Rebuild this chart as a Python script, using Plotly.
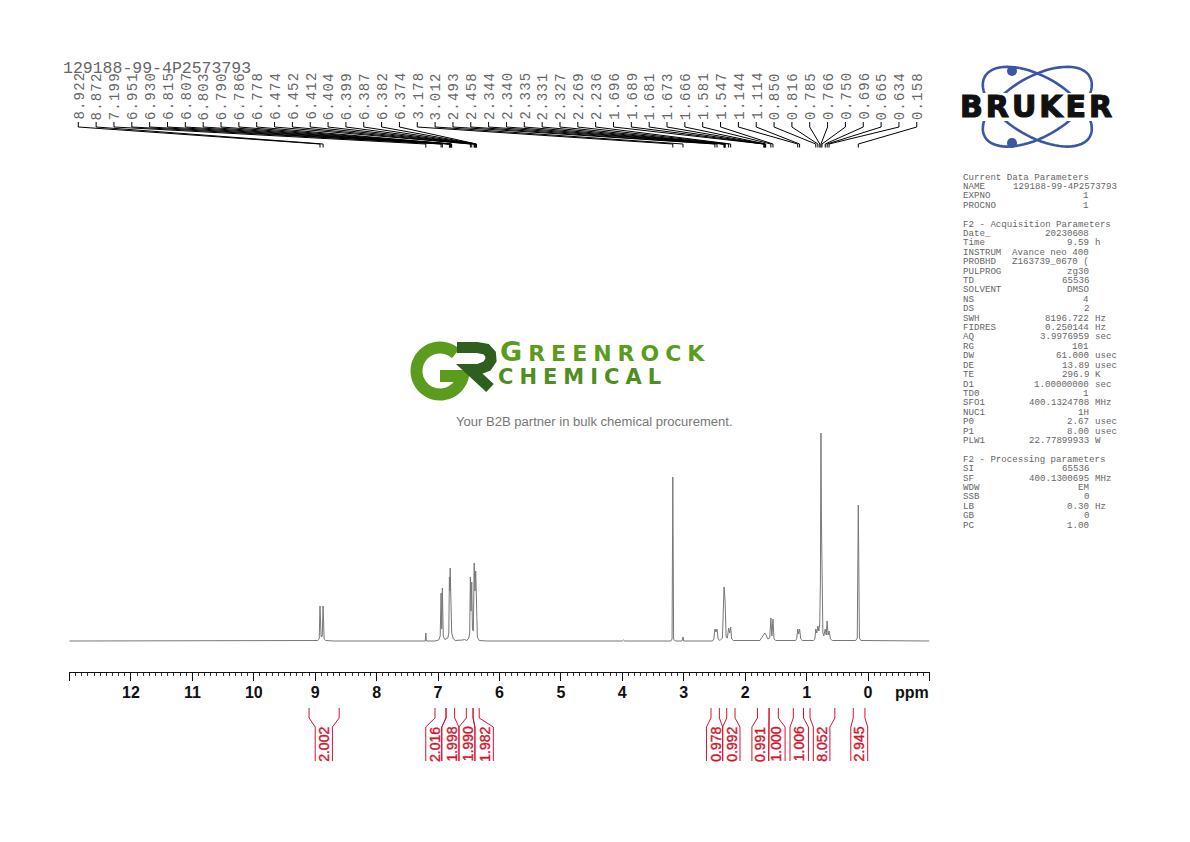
import math
import plotly.graph_objects as go

W, H = 1190, 842

# ---- data -------------------------------------------------------------
spec_ppm = [13.0, 9.0, 8.96, 8.935, 8.922, 8.905, 8.897, 8.885, 8.872, 8.855, 8.83, 8.7,
            7.4, 7.21, 7.199, 7.19, 7.05, 6.99, 6.965, 6.951, 6.94, 6.93, 6.915, 6.89,
            6.84, 6.825, 6.815, 6.807, 6.803, 6.79, 6.778, 6.75, 6.72, 6.6, 6.57, 6.53,
            6.5, 6.485, 6.474, 6.463, 6.452, 6.44, 6.425, 6.412, 6.404, 6.399, 6.387, 6.374,
            6.36, 6.33, 6.2, 4.0, 3.98, 3.96, 3.21, 3.19, 3.178, 3.165, 3.14, 3.03, 3.012, 3.0,
            2.53, 2.51, 2.493, 2.475, 2.458, 2.44, 2.41, 2.37, 2.344, 2.335, 2.327, 2.31, 2.29,
            2.269, 2.252, 2.236, 2.22, 2.19, 1.76, 1.73, 1.696, 1.68, 1.66, 1.63, 1.6, 1.581,
            1.565, 1.547, 1.53, 1.5, 1.18, 1.16, 1.144, 1.13, 1.114, 1.095, 1.07, 0.89, 0.865,
            0.85, 0.833, 0.816, 0.80, 0.785, 0.775, 0.766, 0.758, 0.75, 0.735, 0.72, 0.696,
            0.68, 0.665, 0.65, 0.634, 0.61, 0.58, 0.2, 0.175, 0.158, 0.14, 0.115, -1.0]
spec_int = [0, 0, 0.5, 2, 35, 5, 4, 5, 35, 2, 0.5, 0,
            0, 0, 8, 0, 0, 1, 5, 48, 12, 53, 5, 1.5,
            3, 8, 64, 50, 73, 30, 8, 2, 0.5, 1, 1.5, 0.5,
            3, 8, 64, 30, 59, 12, 10, 78, 55, 50, 70, 20,
            4, 0.5, 0, 0, 1, 0, 0, 2, 164, 2, 0, 0, 4, 0,
            0, 2, 12, 9, 12, 2, 0.5, 3, 54, 48, 40, 4, 3,
            13, 8, 14, 2, 0.5, 0.5, 3, 7, 8, 6, 2, 3, 23,
            5, 22, 2, 0.5, 0.5, 2.5, 12, 7, 12, 2, 0.5, 0.5, 2,
            12, 8, 15, 10, 18, 60, 208, 120, 88, 8, 5, 12,
            6, 20, 6, 10, 2, 0.5, 0.5, 3, 136, 3, 0.5, 0]

peak_labels = ["8.922", "8.872", "7.199", "6.951", "6.930", "6.815", "6.807", "6.803",
               "6.790", "6.786", "6.778", "6.474", "6.452", "6.412", "6.404", "6.399",
               "6.387", "6.382", "6.374", "3.178", "3.012", "2.493", "2.458", "2.344",
               "2.340", "2.335", "2.331", "2.327", "2.269", "2.236", "1.696", "1.689",
               "1.681", "1.673", "1.666", "1.581", "1.547", "1.144", "1.114", "0.850",
               "0.816", "0.785", "0.766", "0.750", "0.696", "0.665", "0.634", "0.158"]

tick_vals = [13, 12, 11, 10, 9, 8, 7, 6, 5, 4, 3, 2, 1, 0, -1]
tick_text = ["", "12", "11", "10", "9", "8", "7", "6", "5", "4", "3", "2", "1", "0", ""]

# integrals: value, limits at the top, feet at the bottom, label position (all ppm)
int_values = ["2.002", "2.016", "1.998", "1.990", "1.982", "0.978", "0.992",
              "0.991", "1.000", "1.006", "8.052", "2.945"]
int_left = [9.10, 7.05, 6.87, 6.54, 6.43, 2.556, 2.30, 1.80, 1.61, 1.216, 0.944, 0.24]
int_right = [8.61, 6.87, 6.73, 6.43, 6.33, 2.42, 2.165, 1.61, 1.46, 1.05, 0.54, 0.05]
int_left_foot = [9.00, 7.20, 6.94, 6.66, 6.40, 2.63, 2.366, 1.89, 1.617, 1.27, 0.89, 0.28]
int_right_foot = [8.72, 6.94, 6.66, 6.40, 6.10, 2.366, 2.084, 1.617, 1.35, 0.97, 0.62, 0.005]
int_label_ppm = [8.86, 7.05, 6.78, 6.51, 6.24, 2.48, 2.22, 1.76, 1.49, 1.12, 0.755, 0.14]

param_names = ["Current Data Parameters", "NAME", "EXPNO", "PROCNO", "",
               "F2 - Acquisition Parameters", "Date_", "Time", "INSTRUM", "PROBHD", "PULPROG",
               "TD", "SOLVENT", "NS", "DS", "SWH", "FIDRES", "AQ", "RG", "DW", "DE", "TE", "D1",
               "TD0", "SFO1", "NUC1", "P0", "P1", "PLW1", "",
               "F2 - Processing parameters", "SI", "SF", "WDW", "SSB", "LB", "GB", "PC"]
param_values = ["", "129188-99-4P2573793", "1", "1", "",
                "", "20230608", "9.59", "Avance neo 400", "Z163739_0670 (", "zg30",
                "65536", "DMSO", "4", "2", "8196.722", "0.250144", "3.9976959", "101", "61.000",
                "13.89", "296.9", "1.00000000", "1", "400.1324708", "1H", "2.67", "8.00",
                "22.77899933", "", "", "65536", "400.1300695", "EM", "0", "0.30", "0", "1.00"]
param_units = ["", "", "", "", "", "", "", "h", "", "", "", "", "", "", "", "Hz", "Hz", "sec", "",
               "usec", "usec", "K", "sec", "", "MHz", "", "usec", "usec", "W", "",
               "", "", "MHz", "", "", "Hz", "", ""]

sample_title = "129188-99-4P2573793"
tagline = "Your B2B partner in bulk chemical procurement."


# ---- helpers ----------------------------------------------------------
def px(x):
    return x / W


def py(y):
    return 1 - y / H


def ppm_of_px(x):
    return (868.0 - x) / 61.42


def stroke_path(points):
    return "M " + " L ".join(f"{px(a):.5f},{py(b):.5f}" for a, b in points)


def ellipse_path(cx, cy, a, b, deg):
    t = math.radians(deg)
    pts = []
    for k in range(0, 73):
        u = math.radians(k * 5)
        ex, ey = a * math.cos(u), b * math.sin(u)
        pts.append((cx + ex * math.cos(t) - ey * math.sin(t), cy + ex * math.sin(t) + ey * math.cos(t)))
    return stroke_path(pts)


def arc_path(cx, cy, r, a0, a1):
    n = 48
    pts = []
    for k in range(n + 1):
        u = math.radians(a0 + (a1 - a0) * k / n)
        pts.append((cx + r * math.cos(u), cy + r * math.sin(u)))
    return stroke_path(pts)


fig = go.Figure()

# spectrum
fig.add_trace(go.Scatter(x=spec_ppm, y=spec_int, mode="lines", xaxis="x", yaxis="y",
                         line=dict(color="#777777", width=1), hoverinfo="skip", showlegend=False))

# peak-label connectors
cx, cy = [], []
for i, lab in enumerate(peak_labels):
    slot = ppm_of_px(78.3 + i * 17.84)
    p = float(lab)
    cx += [slot, slot, p, p, None]
    cy += [122, 127, 144, 147.5, None]
fig.add_trace(go.Scatter(x=cx, y=cy, mode="lines", xaxis="x", yaxis="y2",
                         line=dict(color="#000000", width=1), hoverinfo="skip", showlegend=False))

# integral brackets
ix, iy = [], []
for a, b, fa, fb in zip(int_left, int_right, int_left_foot, int_right_foot):
    ix += [a, a, fa, fa, None, b, b, fb, fb, None]
    iy += [708, 718, 727, 761, None, 708, 718, 727, 761, None]
fig.add_trace(go.Scatter(x=ix, y=iy, mode="lines", xaxis="x", yaxis="y2",
                         line=dict(color="#d3142c", width=1), hoverinfo="skip", showlegend=False))

ann = []
for i, lab in enumerate(peak_labels):
    ann.append(dict(x=ppm_of_px(79.6 + i * 17.84), y=96, xref="x", yref="y2",
                    text=f'<span style="letter-spacing:1.2px">{lab}</span>', showarrow=False,
                    textangle=-90, font=dict(family="Liberation Mono", size=14, color="#666666"),
                    xanchor="center", yanchor="middle"))

for v, x in zip(int_values, int_label_ppm):
    ann.append(dict(x=x, y=744, xref="x", yref="y2",
                    text=f'<span style="stroke:#d3142c;stroke-width:0.4px">{v}</span>',
                    showarrow=False, textangle=-90,
                    font=dict(family="Liberation Sans", size=14, color="#d3142c"),
                    xanchor="center", yanchor="middle"))

ann.append(dict(x=px(912), y=py(692.5), xref="paper", yref="paper", text="<b>ppm</b>", showarrow=False,
                font=dict(family="Liberation Sans", size=16, color="#111111"),
                xanchor="center", yanchor="middle"))
ann.append(dict(x=px(60.5), y=py(68), xref="paper", yref="paper", text=sample_title, showarrow=False,
                font=dict(family="Liberation Mono", size=16.5, color="#666666"),
                xanchor="left", yanchor="middle"))
ann.append(dict(x=px(594.5), y=py(421.5), xref="paper", yref="paper", text=tagline, showarrow=False,
                font=dict(family="Liberation Sans", size=13.05, color="#777777"),
                xanchor="center", yanchor="middle"))

# parameter block
pfont = dict(family="Liberation Mono", size=9.15, color="#666666")
for i, (n, v, u) in enumerate(zip(param_names, param_values, param_units)):
    y = 177 + i * 9.41
    if n:
        ann.append(dict(x=px(961), y=py(y), xref="paper", yref="paper", text=n, showarrow=False,
                        font=pfont, xanchor="left", yanchor="middle"))
    if v:
        right = 1118.5 if n == "NAME" else 1090.5
        ann.append(dict(x=px(right), y=py(y), xref="paper", yref="paper", text=v, showarrow=False,
                        font=pfont, xanchor="right", yanchor="middle"))
    if u:
        ann.append(dict(x=px(1093), y=py(y), xref="paper", yref="paper", text=u, showarrow=False,
                        font=pfont, xanchor="left", yanchor="middle"))

# logos as text + drawn shapes
BLUE = "#3a56a6"
GREEN = "#5b9c1e"
DARK = "#2f5f1f"
shapes = [
    dict(type="path", xref="paper", yref="paper", path=ellipse_path(1037.3, 106.7, 60.5, 30, 30),
         line=dict(color=BLUE, width=2.6)),
    dict(type="path", xref="paper", yref="paper", path=ellipse_path(1037.3, 106.7, 60.5, 30, -30),
         line=dict(color=BLUE, width=2.6)),
    dict(type="rect", xref="paper", yref="paper", x0=px(957), x1=px(1117), y0=py(93), y1=py(121),
         fillcolor="#ffffff", line=dict(width=0)),
    dict(type="circle", xref="paper", yref="paper", x0=px(1007), x1=px(1017), y0=py(66), y1=py(76),
         fillcolor=BLUE, line=dict(width=0)),
    dict(type="circle", xref="paper", yref="paper", x0=px(1007), x1=px(1017), y0=py(138), y1=py(148),
         fillcolor=BLUE, line=dict(width=0)),
    # GR mark
    dict(type="path", xref="paper", yref="paper", path=arc_path(440, 371, 23.5, -48, -360),
         line=dict(color=GREEN, width=12)),
    dict(type="rect", xref="paper", yref="paper", x0=px(440), x1=px(467), y0=py(370), y1=py(382),
         fillcolor=GREEN, line=dict(width=0)),
    dict(type="path", xref="paper", yref="paper",
         path=stroke_path([(457, 347.5), (477, 347.5), (486, 349), (490.5, 354), (491, 360), (487, 366),
                           (478, 369.5), (470, 369.5), (490, 388)]),
         line=dict(color=DARK, width=11)),
]
ann.append(dict(x=px(1037.5), y=py(107), xref="paper", yref="paper",
                text='<span style="stroke:#111;stroke-width:1.2px;letter-spacing:3px">BRUKER</span>',
                showarrow=False, font=dict(family="DejaVu Sans", size=30, color="#111111", weight="bold"),
                xanchor="center", yanchor="middle"))
ann.append(dict(x=px(605), y=py(351.5), xref="paper", yref="paper",
                text='<span style="letter-spacing:6px"><span style="font-size:27px">G</span>REENROCK</span>',
                showarrow=False, font=dict(family="DejaVu Sans", size=22, color=GREEN, weight="bold"),
                xanchor="center", yanchor="middle"))
ann.append(dict(x=px(582.5), y=py(377), xref="paper", yref="paper",
                text='<span style="letter-spacing:6px">CHEMICAL</span>',
                showarrow=False, font=dict(family="DejaVu Sans", size=21, color="#4f8f22", weight="bold"),
                xanchor="center", yanchor="middle"))

fig.update_layout(
    width=W, height=H, autosize=False, showlegend=False,
    margin=dict(l=0, r=0, t=0, b=0),
    paper_bgcolor="#ffffff", plot_bgcolor="#ffffff",
    annotations=ann, shapes=shapes,
    xaxis=dict(domain=[69 / W, 929.5 / W], range=[ppm_of_px(69), ppm_of_px(929.5)],
               anchor="free", position=py(672), showgrid=False, zeroline=False,
               showline=True, linecolor="#111111", linewidth=1,
               tickmode="array", tickvals=tick_vals, ticktext=tick_text,
               ticks="outside", ticklen=8, tickwidth=1, tickcolor="#111111",
               minor=dict(dtick=0.1, tick0=0, ticks="outside", ticklen=3, tickwidth=1,
                          tickcolor="#333333", showgrid=False),
               ticklabelstandoff=-2,
               tickfont=dict(family="Liberation Sans", size=16, color="#111111", weight="bold")),
    yaxis=dict(domain=[0, 1], range=[641 - H, 641], visible=False, fixedrange=True),
    yaxis2=dict(domain=[0, 1], range=[H, 0], overlaying="y", visible=False, fixedrange=True),
)

fig.write_html("out.html", config=dict(displayModeBar=False),
               post_script="document.body.style.margin='0';document.body.style.overflow='hidden';")
